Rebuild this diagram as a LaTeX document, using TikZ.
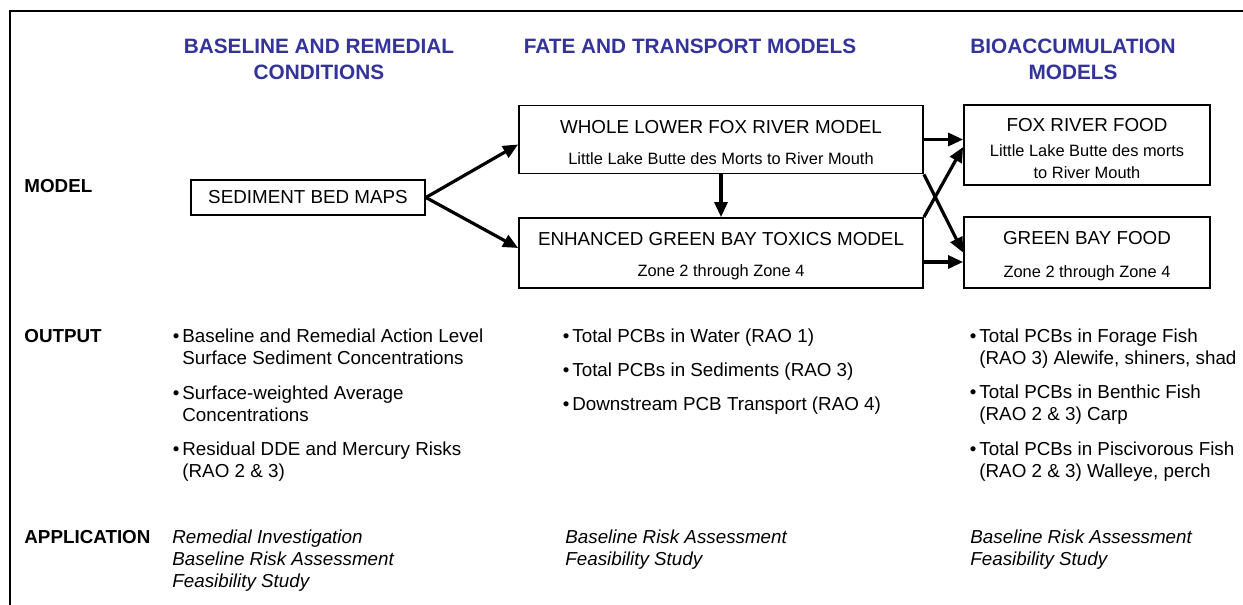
\documentclass[tikz,border=0pt]{standalone}
\usepackage{fontspec}
\setmainfont{Liberation Sans}
\usetikzlibrary{
  arrows.meta,
  positioning,
  calc
}
\definecolor{headcolor}{RGB}{51, 51, 153}
\definecolor{linecolor}{RGB}{0, 0, 0}
\newcommand{\headfont}{\fontsize{10.4}{13}\selectfont\bfseries}
\newcommand{\txtfont}{\fontsize{9.4}{11}\selectfont}
\newcommand{\subfont}{\fontsize{8.2}{10.5}\selectfont}
\newcommand{\topgap}{\rule{0pt}{9.7pt}}
\tikzset{
headlabel/.style={
  font=\headfont,
  text=headcolor,
  align=center
},
rowlabel/.style={
  font=\txtfont\bfseries,
  anchor=base west,
  inner sep=0pt
},
modelbox/.style={
  draw=linecolor,
  line width=0.9pt,
  align=center,
  font=\txtfont,
  inner sep=0pt
},
itemtext/.style={
  font=\txtfont,
  align=left,
  anchor=base west,
  inner sep=0pt
},
apptext/.style={
  font=\txtfont\itshape,
  align=left,
  anchor=base west,
  inner sep=0pt
},
arrow/.style={
  -{Triangle[length=7.5pt,width=6.5pt]},
  line width=1.6pt,
  draw=linecolor
}
}
\newcommand{\bul}{\llap{\textbullet\hspace{1.5pt}}}

\begin{document}
\begin{tikzpicture}[x=0.5pt, y=-0.5pt]
  \useasboundingbox (0,0) rectangle (1243,605);
  \draw[line width=1pt] (10,605) -- (10,11) -- (1243,11);

  % column headings
  \node[headlabel] (hbase) at (319,59) {BASELINE AND REMEDIAL\\CONDITIONS};
  \node[headlabel] (hfate) at (690,46) {FATE AND TRANSPORT MODELS};
  \node[headlabel] (hbio) at (1073,59) {BIOACCUMULATION\\MODELS};

  % row labels
  \node[rowlabel] (lmodel) at (24,192) {MODEL};
  \node[rowlabel] (loutput) at (24,342) {OUTPUT};
  \node[rowlabel] (lapp) at (24,543) {APPLICATION};

  % model boxes
  \node[modelbox, minimum width=117pt, minimum height=17.5pt] (sed) at (308,197.5) {SEDIMENT BED MAPS};
  \node[modelbox, minimum width=202pt, minimum height=34pt] (wlf) at (721,139.5)
    {\topgap WHOLE LOWER FOX RIVER MODEL\\[4.5pt]\subfont Little Lake Butte des Morts to River Mouth};
  \node[modelbox, minimum width=202pt, minimum height=35pt] (enh) at (721,253)
    {\topgap ENHANCED GREEN BAY TOXICS MODEL\\[4.5pt]\subfont Zone 2 through Zone 4};
  \node[modelbox, minimum width=123pt, minimum height=40pt] (fox) at (1087,145)
    {\topgap FOX RIVER FOOD\\[1.5pt]\subfont Little Lake Butte des morts\\\subfont to River Mouth};
  \node[modelbox, minimum width=123pt, minimum height=35.5pt] (grn) at (1087,252.5)
    {\topgap GREEN BAY FOOD\\[5.5pt]\subfont Zone 2 through Zone 4};

  \coordinate (enhout) at ($(enh.east)+(0,9)$);
  \draw[arrow] (sed.east) -- ($(wlf.west)+(0,5)$);
  \draw[arrow] (sed.east) -- ($(enh.west)+(0,-5)$);
  \draw[arrow] (wlf.south) -- (enh.north);
  \draw[arrow] (wlf.east) -- (wlf.east -| fox.west);
  \draw[arrow] (enhout) -- (enhout -| grn.west);
  \draw[arrow] (wlf.south east) -- (grn.west);
  \draw[arrow] (enh.north east) -- ($(fox.west)+(0,2)$);

  % outputs
  \node[itemtext] (o1a) at (182,364) {\bul Baseline and Remedial Action Level\\Surface Sediment Concentrations};
  \node[itemtext] (o1b) at (182,421) {\bul Surface-weighted Average\\Concentrations};
  \node[itemtext] (o1c) at (182,477) {\bul Residual DDE and Mercury Risks\\(RAO 2 \& 3)};
  \node[itemtext] (o2a) at (572,342) {\bul Total PCBs in Water (RAO 1)};
  \node[itemtext] (o2b) at (572,376) {\bul Total PCBs in Sediments (RAO 3)};
  \node[itemtext] (o2c) at (572,410) {\bul Downstream PCB Transport (RAO 4)};
  \node[itemtext] (o3a) at (979,364) {\bul Total PCBs in Forage Fish\\(RAO 3) Alewife, shiners, shad};
  \node[itemtext] (o3b) at (979,420) {\bul Total PCBs in Benthic Fish\\(RAO 2 \& 3) Carp};
  \node[itemtext] (o3c) at (979,477) {\bul Total PCBs in Piscivorous Fish\\(RAO 2 \& 3) Walleye, perch};

  % applications
  \node[apptext] (a1) at (172,587) {Remedial Investigation\\Baseline Risk Assessment\\Feasibility Study};
  \node[apptext] (a2) at (565,565) {Baseline Risk Assessment\\Feasibility Study};
  \node[apptext] (a3) at (970,565) {Baseline Risk Assessment\\Feasibility Study};
\end{tikzpicture}
\end{document}
